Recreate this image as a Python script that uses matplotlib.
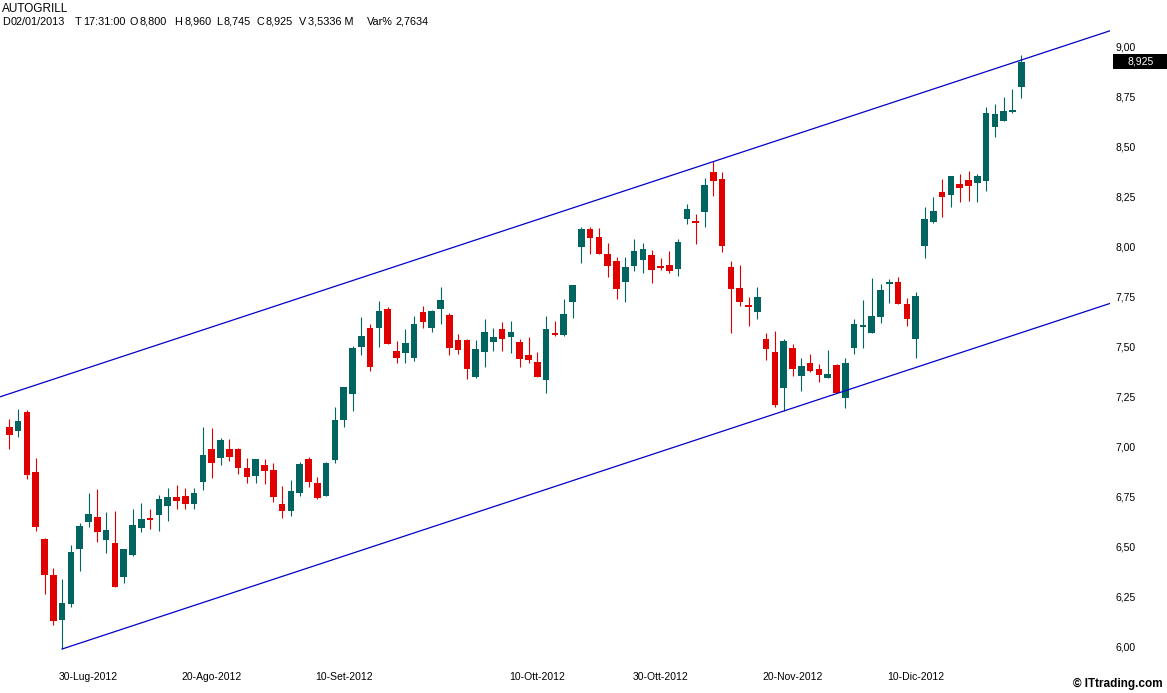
import matplotlib
matplotlib.use("Agg")
import matplotlib.pyplot as plt
import matplotlib.transforms as mtrans
from matplotlib.patches import Rectangle
import numpy as np
import pandas as pd

# ---------------- data ----------------
title = "AUTOGRILL"
info_prefixes = ["D", "T", "O", "H", "L", "C", "V", "Var%"]
info_values = ["02/01/2013", "17:31:00", "8,800", "8,960", "8,745", "8,925",
               "3,5336 M", "2,7634"]

first_day = "2012-07-17"
last_day = "2013-01-02"
holidays = ["2012-08-15", "2012-12-24", "2012-12-25", "2012-12-26", "2012-12-31",
            "2013-01-01"]

opens = [7.10, 7.08, 7.175, 6.875, 6.54, 6.36, 6.135, 6.215, 6.49, 6.625,
         6.65, 6.535, 6.52, 6.35, 6.46, 6.595, 6.64, 6.66, 6.705, 6.75,
         6.755, 6.715, 6.825, 6.99, 6.945, 6.99, 6.99, 6.895, 6.855, 6.91,
         6.885, 6.715, 6.68, 6.77, 6.94, 6.82, 6.755, 6.935, 7.135, 7.265,
         7.50, 7.595, 7.595, 7.69, 7.48, 7.47, 7.445, 7.675, 7.595, 7.69,
         7.66, 7.535, 7.535, 7.35, 7.475, 7.525, 7.59, 7.55, 7.525, 7.46,
         7.425, 7.335, 7.57, 7.56, 7.725, 8.00, 8.09, 8.05, 7.965, 7.93,
         7.825, 7.905, 7.935, 7.96, 7.90, 7.91, 7.89, 8.14, 8.125, 8.175,
         8.375, 8.34, 7.90, 7.795, 7.71, 7.675, 7.54, 7.475, 7.295, 7.495,
         7.355, 7.42, 7.39, 7.345, 7.41, 7.245, 7.495, 7.60, 7.57, 7.65,
         7.815, 7.825, 7.715, 7.54, 8.005, 8.125, 8.275, 8.26, 8.315, 8.335,
         8.32, 8.33, 8.60, 8.63, 8.675, 8.80]
highs = [7.14, 7.19, 7.185, 6.945, 6.545, 6.395, 6.34, 6.51, 6.62, 6.77,
         6.79, 6.675, 6.68, 6.49, 6.69, 6.72, 6.69, 6.76, 6.795, 6.81,
         6.795, 6.795, 7.10, 7.095, 7.045, 7.04, 6.995, 6.945, 6.94, 6.94,
         6.92, 6.805, 6.835, 6.925, 6.95, 6.85, 6.925, 7.20, 7.30, 7.505,
         7.65, 7.615, 7.73, 7.70, 7.53, 7.59, 7.655, 7.705, 7.685, 7.80,
         7.67, 7.565, 7.54, 7.535, 7.64, 7.595, 7.625, 7.63, 7.54, 7.55,
         7.475, 7.655, 7.63, 7.74, 7.81, 8.10, 8.10, 8.095, 8.02, 7.95,
         7.95, 8.04, 8.02, 7.985, 7.945, 7.98, 8.04, 8.215, 8.165, 8.345,
         8.43, 8.375, 7.93, 7.91, 7.75, 7.80, 7.57, 7.58, 7.54, 7.515,
         7.445, 7.465, 7.415, 7.485, 7.415, 7.445, 7.64, 7.735, 7.845, 7.815,
         7.84, 7.85, 7.745, 7.775, 8.20, 8.25, 8.34, 8.355, 8.365, 8.38,
         8.365, 8.70, 8.715, 8.75, 8.79, 8.96]
lows = [6.99, 7.05, 6.84, 6.58, 6.265, 6.11, 5.99, 6.20, 6.38, 6.60,
        6.525, 6.47, 6.30, 6.32, 6.455, 6.575, 6.59, 6.58, 6.63, 6.69,
        6.69, 6.69, 6.785, 6.845, 6.91, 6.93, 6.865, 6.82, 6.82, 6.815,
        6.725, 6.645, 6.655, 6.755, 6.80, 6.74, 6.755, 6.92, 7.10, 7.18,
        7.46, 7.38, 7.50, 7.515, 7.42, 7.42, 7.43, 7.595, 7.575, 7.615,
        7.46, 7.465, 7.34, 7.345, 7.40, 7.48, 7.48, 7.47, 7.40, 7.42,
        7.35, 7.27, 7.555, 7.555, 7.645, 7.92, 7.965, 7.965, 7.85, 7.74,
        7.725, 7.88, 7.87, 7.82, 7.885, 7.87, 7.855, 8.115, 8.015, 8.10,
        8.255, 7.975, 7.57, 7.705, 7.605, 7.64, 7.435, 7.20, 7.18, 7.355,
        7.28, 7.375, 7.325, 7.345, 7.27, 7.195, 7.465, 7.495, 7.57, 7.62,
        7.72, 7.715, 7.605, 7.445, 7.945, 8.12, 8.15, 8.20, 8.225, 8.23,
        8.225, 8.28, 8.55, 8.63, 8.67, 8.745]
closes = [7.06, 7.13, 6.86, 6.60, 6.36, 6.13, 6.22, 6.475, 6.605, 6.665,
          6.575, 6.585, 6.30, 6.49, 6.61, 6.64, 6.635, 6.74, 6.75, 6.73,
          6.715, 6.77, 6.96, 6.92, 7.035, 6.95, 6.895, 6.85, 6.94, 6.88,
          6.75, 6.68, 6.78, 6.915, 6.825, 6.745, 6.92, 7.135, 7.30, 7.495,
          7.555, 7.40, 7.68, 7.515, 7.445, 7.52, 7.615, 7.625, 7.68, 7.735,
          7.495, 7.485, 7.39, 7.49, 7.575, 7.55, 7.54, 7.575, 7.44, 7.435,
          7.35, 7.59, 7.56, 7.665, 7.81, 8.09, 8.045, 7.965, 7.905, 7.79,
          7.90, 7.98, 7.99, 7.885, 7.895, 7.88, 8.025, 8.19, 8.12, 8.31,
          8.33, 8.005, 7.79, 7.725, 7.70, 7.75, 7.49, 7.21, 7.53, 7.39,
          7.405, 7.38, 7.36, 7.365, 7.27, 7.42, 7.615, 7.61, 7.655, 7.785,
          7.825, 7.715, 7.64, 7.755, 8.14, 8.18, 8.25, 8.355, 8.295, 8.305,
          8.355, 8.67, 8.665, 8.68, 8.685, 8.925]

tick_dates = ["2012-07-30", "2012-08-20", "2012-09-10", "2012-10-10",
              "2012-10-30", "2012-11-20", "2012-12-10"]
tick_labels = ["30-Lug-2012", "20-Ago-2012", "10-Set-2012", "10-Ott-2012",
               "30-Ott-2012", "20-Nov-2012", "10-Dic-2012"]
y_ticks = [6.00, 6.25, 6.50, 6.75, 7.00, 7.25, 7.50, 7.75, 8.00, 8.25, 8.50, 8.75, 9.00]

# channel (parallel trend lines): anchor bar index, anchor price
channel_slope = 0.01451          # price per bar
lower_anchor = (6, 5.99)
upper_anchor = (80, 8.427)

# ---------------- figure ----------------
W, H = 1167, 693
FONT = "Liberation Sans"
fig = plt.figure(figsize=(W / 100, H / 100), dpi=100, facecolor="white")
ax = fig.add_axes([0, 1 - 662 / H, 1110 / W, (662 - 30) / H])
ax.set_facecolor("white")

days = pd.bdate_range(first_day, last_day)
days = days[~days.isin(pd.to_datetime(holidays))]
n = len(days)
x = np.arange(n)

o = np.array(opens); h = np.array(highs); l = np.array(lows); c = np.array(closes)
up = c >= o
teal = "#006461"
red = "#e00000"
cols = np.where(up, teal, red)

ax.vlines(x, l, h, colors=cols, linewidth=0.8, zorder=2)
bottom = np.minimum(o, c)
height = np.maximum(np.abs(c - o), 0.008)
ax.bar(x, height, bottom=bottom, width=0.76, color=cols, linewidth=0, zorder=3)

# channel lines
xl = (-1.06, 125.08)
xx = np.array([xl[0], xl[1]])
upper_y = upper_anchor[1] + channel_slope * (xx - upper_anchor[0])
ax.plot(xx, upper_y, color="#0000c8", linewidth=0.9, zorder=4)
xx2 = np.array([lower_anchor[0], xl[1]])
lower_y = lower_anchor[1] + channel_slope * (xx2 - lower_anchor[0])
ax.plot(xx2, lower_y, color="#0000c8", linewidth=0.9, zorder=4)

ax.set_xlim(*xl)
ax.set_ylim(5.925, 9.085)

for s in ax.spines.values():
    s.set_visible(False)

pos = [int(np.where(days == pd.Timestamp(d))[0][0]) for d in tick_dates]
ax.set_xticks(pos)
ax.set_xticklabels(tick_labels, fontsize=7.5, family=FONT)
ax.tick_params(axis="x", length=0, pad=7)

ax.yaxis.tick_right()
ax.set_yticks(y_ticks)
ax.set_yticklabels([f"{v:.2f}".replace(".", ",") for v in y_ticks],
                   fontsize=7.5, family=FONT)
ax.tick_params(axis="y", length=0, pad=4)

# last price box
blend = mtrans.blended_transform_factory(fig.transFigure, ax.transData)
last = closes[-1]
rect = Rectangle((1113 / W, last - 0.0375), 54 / W, 0.075, transform=blend,
                 facecolor="black", edgecolor="none", clip_on=False, zorder=5)
fig.add_artist(rect)
fig.text(1141 / W, last, f"{last:.3f}".replace(".", ","), transform=blend,
         color="white", fontsize=7.5, family=FONT, ha="center", va="center",
         zorder=6)

fig.text(2 / W, 1 - 9 / H, title, fontsize=8.5, family=FONT,
         ha="left", va="center")
value_x = [11, 83, 140, 184, 224, 266, 308, 395]
for i, (px, val, pre) in enumerate(zip(value_x, info_values, info_prefixes)):
    fig.text(px / W, 1 - 22 / H, val, fontsize=7.8, family=FONT,
             ha="left", va="center")
    if i == 0:
        fig.text(2 / W, 1 - 22 / H, pre, fontsize=7.8, family=FONT,
                 ha="left", va="center")
    else:
        fig.text((px - 2) / W, 1 - 22 / H, pre, fontsize=7.8, family=FONT,
                 ha="right", va="center")
fig.text(1163 / W, 1 - 684 / H, "\u00a9 ITtrading.com", fontsize=8.5,
         family=FONT, weight="bold", ha="right", va="center")

fig.savefig("out.png", dpi=100, facecolor="white")
